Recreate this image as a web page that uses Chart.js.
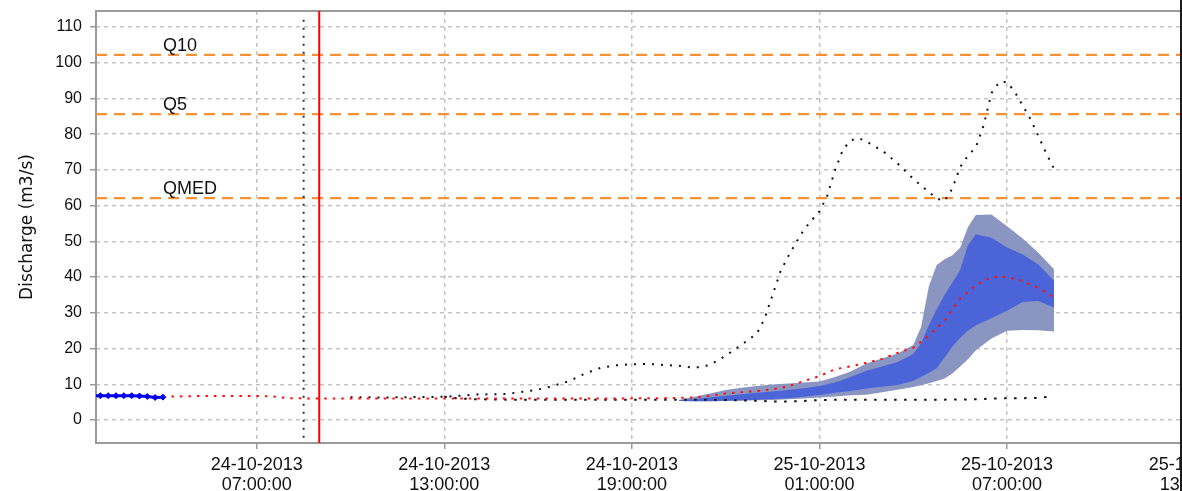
<!DOCTYPE html>
<html>
<head>
<meta charset="utf-8">
<title>Discharge forecast</title>
<script src="https://cdn.jsdelivr.net/npm/chart.js@4.4.1/dist/chart.umd.min.js"></script>
<style>
    html, body {
        margin: 0;
        padding: 0;
        background: #ffffff;
        overflow: hidden;
    }
    .chart-wrap {
        position: relative;
        width: 1240px;
        height: 491px;
    }
    .edge {
        position: absolute;
        left: 1180px;
        top: 0;
        width: 2px;
        height: 491px;
        background: #1a1a1a;
    }
</style>
</head>
<body>
<div class="chart-wrap">
    <canvas id="dischargeChart"></canvas>
</div>
<div class="edge"></div>

<script>
// x values are hours since 24-10-2013 00:00
const xMin = 1.86;
const xMax = 38.13;
const yMin = -6.44;
const yMax = 114.48;

const xTickHours = [7, 13, 19, 25, 31, 37];
const xTickLabels = [
    ['24-10-2013', '07:00:00'],
    ['24-10-2013', '13:00:00'],
    ['24-10-2013', '19:00:00'],
    ['25-10-2013', '01:00:00'],
    ['25-10-2013', '07:00:00'],
    ['25-10-2013', '13:00:00']
];
const yTicks = [0, 10, 20, 30, 40, 50, 60, 70, 80, 90, 100, 110];

// return period thresholds
const thresholdNames = ['Q10', 'Q5', 'QMED'];
const thresholdValues = [102.2, 85.6, 62.1];
const thresholdLabelHour = 4;

// forecast issue time and the dotted marker just before it
const forecastHour = 9;
const markerHour = 8.5;

// observed discharge
const obsHours = [1.75, 2, 2.25, 2.5, 2.75, 3, 3.25, 3.5, 3.75, 4];
const obsFlow = [6.8, 6.8, 6.8, 6.8, 6.8, 6.8, 6.7, 6.6, 6.3, 6.4];

// deterministic forecast (red dotted)
const detHours = [4, 5, 6, 7, 7.5, 8, 9, 10, 12, 14, 16, 18, 20,
    20.5, 21, 21.5, 22, 22.5, 23, 23.5, 24, 24.5, 25, 25.5, 26, 26.5,
    27, 27.5, 28, 28.5, 29, 29.5, 30, 30.5, 31, 31.5, 32, 32.5];
const detFlow = [6.5, 6.7, 6.7, 6.7, 6.6, 6.1, 6.0, 6.0, 6.0, 6.0, 6.0, 6.0, 6.1,
    6.2, 6.3, 6.8, 7.4, 7.8, 8.1, 8.6, 9.4, 10.9, 12.3, 14.2, 15.0, 16.0,
    17.1, 18.8, 20.2, 23.6, 27.8, 34.0, 37.7, 40.0, 40.0, 38.9, 37.0, 34.3];

// upper black dotted scenario
const maxHours = [10, 11, 12, 13, 13.5, 14, 14.5, 15, 15.5, 16, 16.5, 17, 17.5, 18,
    18.5, 19, 19.5, 20, 20.5, 21, 21.5, 22, 22.5, 23, 23.25, 23.5, 23.75, 24,
    24.25, 24.5, 24.75, 25, 25.25, 25.5, 25.75, 26, 26.25, 26.5, 26.75, 27,
    27.5, 28, 28.5, 28.75, 29, 29.25, 29.5, 29.75, 30, 30.25, 30.5, 30.75, 31,
    31.25, 31.5, 31.75, 32, 32.25, 32.5];
const maxFlow = [6.4, 6.3, 6.4, 6.5, 6.8, 7.1, 7.2, 7.3, 7.9, 8.5, 9.6, 10.9, 13.0, 14.6,
    15.3, 15.6, 15.7, 15.4, 15.2, 14.6, 15.4, 18.0, 21.0, 24.2, 28.5, 35.0, 41.5, 45.8,
    49.7, 53.2, 55.9, 58.4, 62.8, 70.0, 75.7, 78.3, 78.9, 78.0, 76.6, 75.5,
    71.8, 67.5, 63.8, 62.0, 61.3, 64.8, 70.8, 74.0, 76.3, 82.4, 91.5, 94.6, 94.6,
    91.8, 88.0, 84.2, 79.5, 74.7, 70.3];

// lower black dotted scenario
const minHours = [13, 13.5, 14, 15, 16, 17, 18, 19, 20, 21, 22, 23, 23.5, 24, 24.5,
    25, 26, 27, 28, 29, 30, 30.5, 31, 31.5, 32, 32.5];
const minFlow = [6.5, 6.0, 5.8, 5.7, 5.7, 5.7, 5.7, 5.7, 5.7, 5.7, 5.6, 5.4, 5.2, 5.2, 5.3,
    5.6, 5.7, 5.7, 5.7, 5.7, 5.8, 6.0, 6.1, 6.1, 6.2, 6.7];

// ensemble bands
const bandHours = [20.5, 21, 21.5, 22, 22.5, 23, 23.5, 24, 24.5, 25, 25.5, 26, 26.5, 27,
    27.5, 28, 28.25, 28.5, 28.75, 29, 29.25, 29.5, 29.75, 30, 30.5, 31, 31.5, 32, 32.5];
const outerUpper = [5.6, 6.5, 7.4, 8.4, 9.0, 9.5, 9.9, 10.2, 10.5, 10.8, 12.0, 13.6, 15.8, 17.2,
    18.6, 21.0, 26.0, 37.5, 43.4, 45.0, 46.1, 48.2, 54.0, 57.4, 57.5, 54.2, 50.8, 46.8, 42.2];
const innerUpper = [5.5, 5.9, 6.3, 6.8, 7.2, 7.6, 8.0, 8.4, 8.9, 9.5, 10.5, 12.0, 13.8, 15.0,
    16.2, 18.5, 21.5, 26.5, 31.0, 35.0, 38.5, 42.0, 49.0, 52.0, 51.0, 48.3, 46.3, 43.5, 39.0];
const innerLower = [5.4, 5.3, 5.3, 5.4, 5.5, 5.7, 5.9, 6.1, 6.5, 7.0, 7.6, 8.1, 8.8, 9.3,
    9.8, 11.0, 12.0, 13.2, 14.5, 17.5, 20.5, 23.0, 25.0, 26.5, 28.5, 30.6, 33.0, 33.3, 31.5];
const outerLower = [5.3, 5.2, 5.2, 5.3, 5.4, 5.5, 5.6, 5.8, 6.0, 6.3, 6.6, 6.9, 7.1, 7.8,
    8.5, 9.2, 9.7, 10.3, 10.9, 11.6, 13.0, 15.0, 17.0, 19.5, 22.8, 25.0, 25.2, 25.1, 24.8];

function toPoints(xs, ys) {
    return xs.map((x, i) => ({ x: x, y: ys[i] }));
}

function lineSet(label, data, color, width, dash) {
    return {
        label: label,
        data: data,
        borderColor: color,
        borderWidth: width,
        borderDash: dash,
        pointRadius: 0,
        fill: false,
        tension: 0
    };
}

function bandSet(label, data, fillTarget, color) {
    return {
        label: label,
        data: data,
        borderWidth: 0,
        borderColor: 'rgba(0,0,0,0)',
        backgroundColor: color,
        pointRadius: 0,
        fill: fillTarget,
        tension: 0
    };
}

// draws the plot frame and the threshold names
const frameAndLabels = {
    id: 'frameAndLabels',
    beforeDatasetsDraw(chart) {
        const area = chart.chartArea;
        const ctx = chart.ctx;
        ctx.save();
        ctx.strokeStyle = '#9a9a9a';
        ctx.lineWidth = 2;
        ctx.strokeRect(area.left, area.top, area.right - area.left, area.bottom - area.top);
        ctx.restore();
    },
    afterDatasetsDraw(chart) {
        const ctx = chart.ctx;
        const xs = chart.scales.x;
        const ys = chart.scales.y;
        ctx.save();
        ctx.font = '18px "Liberation Sans", Arial, sans-serif';
        ctx.fillStyle = '#111111';
        ctx.textAlign = 'left';
        ctx.textBaseline = 'alphabetic';
        thresholdNames.forEach((name, i) => {
            ctx.fillText(name, xs.getPixelForValue(thresholdLabelHour),
                ys.getPixelForValue(thresholdValues[i]) - 4);
        });
        ctx.restore();
    }
};

function initializeChart() {
    const ctx = document.getElementById('dischargeChart').getContext('2d');

    const datasets = [
        {
            label: 'Observed',
            data: toPoints(obsHours, obsFlow),
            borderColor: '#0000f0',
            backgroundColor: '#0000f0',
            borderWidth: 3,
            pointStyle: 'rectRot',
            pointRadius: 3,
            pointBorderWidth: 1,
            fill: false,
            tension: 0
        },
        lineSet('Deterministic', toPoints(detHours, detFlow), '#ff1010', 2, [2.5, 6]),
        lineSet('Max', toPoints(maxHours, maxFlow), '#111111', 2, [2, 7]),
        lineSet('Min', toPoints(minHours, minFlow), '#111111', 2, [2.5, 7.5]),
        lineSet('Forecast time', [{ x: forecastHour, y: yMin - 5 }, { x: forecastHour, y: yMax + 5 }], '#ff0000', 2, []),
        lineSet('Marker', [{ x: markerHour, y: -5 }, { x: markerHour, y: 112 }], '#333333', 2, [2, 6]),
        bandSet('25-75%', toPoints(bandHours, innerUpper), '+1', '#4b64d7'),
        bandSet('25%', toPoints(bandHours, innerLower), false, 'rgba(0,0,0,0)'),
        bandSet('10-90%', toPoints(bandHours, outerUpper), '+1', '#8a96c1'),
        bandSet('10%', toPoints(bandHours, outerLower), false, 'rgba(0,0,0,0)')
    ];

    thresholdNames.forEach((name, i) => {
        datasets.push(lineSet(name, [{ x: xMin, y: thresholdValues[i] }, { x: xMax, y: thresholdValues[i] }],
            '#f79234', 2.2, [11, 7]));
    });

    new Chart(ctx, {
        type: 'line',
        data: { datasets: datasets },
        options: {
            responsive: true,
            maintainAspectRatio: false,
            animation: false,
            layout: {
                padding: { top: 11, left: 0, right: 10, bottom: 0 }
            },
            plugins: {
                legend: { display: false },
                tooltip: { enabled: false }
            },
            scales: {
                x: {
                    type: 'linear',
                    min: xMin,
                    max: xMax,
                    afterBuildTicks: (scale) => {
                        scale.ticks = xTickHours.map(v => ({ value: v }));
                    },
                    afterFit: (scale) => {
                        scale.height = 48;
                        scale.paddingLeft = 0;
                        scale.paddingRight = 0;
                    },
                    ticks: {
                        autoSkip: false,
                        maxRotation: 0,
                        padding: 6,
                        color: '#111111',
                        font: { family: '"Liberation Sans", Arial, sans-serif', size: 18, lineHeight: 1.12 },
                        callback: (value) => {
                            const i = xTickHours.indexOf(value);
                            return i >= 0 ? xTickLabels[i] : '';
                        }
                    },
                    grid: {
                        color: '#c4c4c4',
                        lineWidth: 1.5,
                        tickLength: 6,
                        tickColor: '#9a9a9a',
                        tickWidth: 1.5,
                        tickBorderDash: []
                    },
                    border: { display: false, dash: [4, 4] }
                },
                y: {
                    type: 'linear',
                    min: yMin,
                    max: yMax,
                    afterBuildTicks: (scale) => {
                        scale.ticks = yTicks.map(v => ({ value: v }));
                    },
                    afterFit: (scale) => {
                        scale.width = 96;
                        scale.paddingTop = 0;
                        scale.paddingBottom = 0;
                    },
                    ticks: {
                        padding: 8,
                        color: '#111111',
                        font: { family: '"Liberation Sans", Arial, sans-serif', size: 16 }
                    },
                    grid: {
                        color: '#c4c4c4',
                        lineWidth: 1.5,
                        tickLength: 6,
                        tickColor: '#9a9a9a',
                        tickWidth: 1.5,
                        tickBorderDash: []
                    },
                    border: { display: false, dash: [4, 4] },
                    title: {
                        display: true,
                        text: 'Discharge (m3/s)',
                        color: '#111111',
                        padding: { top: 17, bottom: 0 },
                        font: { family: '"DejaVu Sans", sans-serif', size: 17 }
                    }
                }
            }
        },
        plugins: [frameAndLabels]
    });
}

document.addEventListener('DOMContentLoaded', function() {
    initializeChart();
});
</script>
</body>
</html>
